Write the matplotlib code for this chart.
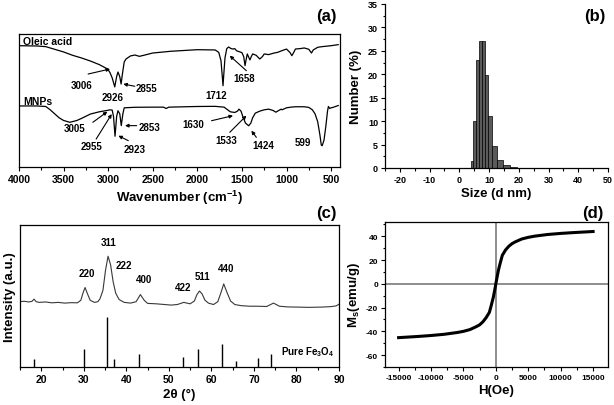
import matplotlib
matplotlib.use('Agg')
import matplotlib.pyplot as plt
from matplotlib.ticker import MultipleLocator, NullLocator

# ---------------- DATA ----------------
# (a) FTIR spectra (wavenumber cm-1, transmittance a.u.)
oleic_wn = [4000, 3800, 3700, 3600, 3500, 3400, 3300, 3200, 3100, 3030, 3006, 2980, 2955, 2926,
            2905, 2890, 2870, 2855, 2840, 2820, 2800, 2750, 2700, 2650, 2600, 2500, 2300, 2000,
            1800, 1760, 1735, 1720, 1712, 1705, 1690, 1670, 1650, 1620, 1600, 1580, 1560, 1500,
            1480, 1465, 1455, 1440, 1420, 1410, 1395, 1380, 1340, 1300, 1270, 1250, 1200, 1150,
            1100, 1050, 1000, 960, 940, 920, 900, 850, 800, 750, 720, 700, 650, 600, 500, 420]
oleic_T = [91.2, 91, 90.5, 88.5, 86.5, 84, 82, 79.7, 77, 74.5, 73.7, 71, 67, 60.2,
           68, 71.4, 68, 62.4, 70, 79, 81.2, 83.5, 84.2, 83.2, 84, 85.7, 87, 88.2,
           88, 86.2, 80, 68, 61.1, 68, 82, 89, 90.2, 89, 88.7, 89, 87.4, 86,
           83, 76.2, 80, 85, 82, 80.5, 83, 85, 84, 81.2, 83, 85, 84.5, 85.5,
           86.2, 87.5, 88.7, 86, 83.7, 86, 88.7, 89, 89.5, 88.5, 85.7, 88, 90, 90.5, 91.2, 92]

mnp_wn = [4000, 3800, 3700, 3650, 3600, 3550, 3500, 3430, 3350, 3300, 3200, 3100, 3005, 2980,
          2955, 2940, 2923, 2905, 2890, 2870, 2853, 2835, 2820, 2700, 2500, 2380, 2350, 2320,
          2000, 1800, 1700, 1660, 1630, 1580, 1550, 1533, 1510, 1490, 1460, 1424, 1400, 1380,
          1350, 1300, 1250, 1200, 1150, 1120, 1100, 1060, 1050, 1000, 950, 900, 800, 750,
          710, 680, 650, 625, 610, 600, 580, 560, 540, 530, 515, 500, 470, 430, 420]
mnp_T = [45.9, 45.9, 45.5, 43, 40, 37, 35, 33.6, 35, 36.5, 39.8, 41.5, 42.6, 43,
         42.8, 38, 23.1, 38, 42.3, 40, 31.1, 40, 44.5, 44.9, 45, 45, 44, 45,
         45.5, 45.6, 45, 43, 41.5, 41, 42, 43.5, 42, 38, 33, 31, 33, 37,
         40.5, 42, 43, 43.5, 42.5, 41.2, 42, 43.5, 43, 44.5, 45, 45.3, 45.3, 44.8,
         43, 40, 34, 24, 16.5, 16, 20, 30, 42, 45.5, 44, 44.5, 45, 46, 46.2]

ftir_labels = ['3006', '2926', '2855', '1712', '1658',
               '3005', '2955', '2923', '2853', '1630', '1533', '1424', '599']
ftir_label_x = [3295, 2945, 2568, 1785, 1469, 3381, 3183, 2701, 2531, 2047, 1673, 1264, 816]
ftir_label_y = [61.7, 52.9, 59.2, 54.1, 66.9, 29.1, 16, 13.5, 30.3, 32.3, 20.5, 16.5, 18.6]
# arrows: (tail_x, tail_y, head_x, head_y)
ftir_arrows = [(3225, 69.9, 2979, 73.7), (2701, 60.7, 2830, 62.4), (1450, 72.4, 1637, 83.7),
               (3172, 33.6, 3009, 41.6), (3135, 21.0, 2960, 39.8), (2774, 19.8, 2886, 23.5),
               (2680, 31.1, 2811, 31.1), (1841, 34.8, 1600, 38.6), (1636, 26.1, 1450, 38.6),
               (1338, 22.3, 1394, 27.3)]
ftir_names = ['Oleic acid', 'MNPs']

# (b) size distribution (bin edges in nm, number %)
size_edges = [3.9, 4.7, 5.6, 6.7, 7.7, 8.7, 9.8, 11.1, 12.6, 14.6, 16.9, 19.3]
size_number = [1.5, 10.1, 23.1, 27.0, 27.0, 19.9, 11.1, 4.8, 1.7, 0.6, 0.2]

# (c) XRD pattern
xrd_2theta = [15, 16, 17, 17.8, 18.3, 18.8, 19.5, 21, 22.5, 24, 25.5, 27, 28.5, 29.3, 29.8, 30.3,
              30.8, 31.5, 32.5, 33.3, 33.8, 34.5, 35.1, 35.7, 36.3, 36.9, 37.5, 38.3, 39.5,
              41, 42.3, 43.3, 44.2, 45, 47, 49, 50.5, 52, 53.5, 55, 56, 56.6, 57.2, 57.8, 58.5,
              59.3, 60.5, 61.5, 62.2, 62.9, 63.6, 64.5, 65.5, 67, 69, 71, 73, 74.6, 76, 78,
              80, 83, 86, 88, 89.3, 90]
xrd_int = [46, 46.3, 45.8, 46.2, 47.8, 46, 45.5, 45.8, 45.2, 45.5, 45, 45.3, 45.2, 47, 52, 56,
           52, 47, 45.5, 46, 48, 54, 68, 78, 72, 60, 52, 47.5, 45.5,
           45, 46, 51, 47, 44.8, 44.5, 44, 43.6, 44, 45.5, 44.5, 46.5, 51, 53.5, 51.5, 47,
           45, 44, 46, 52, 58.5, 53, 46.5, 44, 43.2, 42.8, 42.8, 42.6, 45, 42.8, 42.3,
           42.2, 42, 42.2, 42.5, 43, 44.2]
xrd_hkl = ['220', '311', '222', '400', '422', '511', '440']
xrd_hkl_x = [30.75, 35.9, 39.5, 44.2, 53.3, 57.8, 63.4]
xrd_hkl_y = [66, 88, 72, 62, 56, 64, 70]
ref_2theta = [18.3, 30.1, 35.45, 37.05, 43.05, 53.4, 56.95, 62.55, 65.75, 71.0, 74.0]
ref_int = [5.6, 12.7, 35.0, 5.6, 9.0, 7.0, 13.0, 16.5, 4.5, 6.0, 9.5]

# (d) magnetization curve
field_H = [-15000, -12000, -10000, -8000, -6000, -5000, -4000, -3000, -2500, -2000, -1500,
           -1000, -700, -400, -200, 0, 200, 400, 700, 1000, 1500, 2000, 2500, 3000, 4000,
           5000, 6000, 8000, 10000, 12000, 15000]
magn_M = [-45.3, -44.3, -43.5, -42.5, -41.0, -40.0, -38.5, -36.0, -34.5, -32.0, -28.5,
          -24.0, -18.0, -11.5, -6.0, 0.0, 6.0, 11.5, 18.0, 24.0, 28.5, 31.6, 33.8, 35.3, 37.7,
          39.1, 40.1, 41.5, 42.4, 43.1, 44.0]

# ---------------- STYLE ----------------
plt.rcParams['font.family'] = ['Liberation Sans', 'DejaVu Sans']
plt.rcParams['font.weight'] = 'bold'
plt.rcParams['mathtext.fontset'] = 'custom'
plt.rcParams['mathtext.rm'] = 'Liberation Sans:bold'
plt.rcParams['mathtext.it'] = 'Liberation Sans:bold'
plt.rcParams['mathtext.bf'] = 'Liberation Sans:bold'
plt.rcParams['axes.unicode_minus'] = False
plt.rcParams['axes.linewidth'] = 0.9

W, H = 614, 406
fig = plt.figure(figsize=(W / 100, H / 100), dpi=100)


def box(l, t, r, b):
    return [l / W, 1 - b / H, (r - l) / W, (b - t) / H]


def style_ticks(ax, size):
    ax.tick_params(which='both', direction='out', top=False, right=False, labelsize=size,
                   width=0.8, pad=2)
    ax.tick_params(which='major', length=3)
    ax.tick_params(which='minor', length=1.8)


# ---- (a) ----
axA = fig.add_axes(box(19, 35, 340, 168))
axA.plot(oleic_wn, oleic_T, color='black', lw=0.9)
axA.plot(mnp_wn, mnp_T, color='black', lw=0.9)
axA.set_xlim(4000, 400)
axA.set_ylim(0, 100)
axA.xaxis.set_major_locator(MultipleLocator(500))
axA.xaxis.set_minor_locator(MultipleLocator(250))
axA.yaxis.set_major_locator(NullLocator())
style_ticks(axA, 7.5)
axA.set_xlabel('Wavenumber (cm$^{-1}$)', fontsize=9.5, fontweight='bold', labelpad=3)
axA.text(3952, 95, ftir_names[0], fontsize=7.5, fontweight='bold', va='center', ha='left')
axA.text(3952, 49.8, ftir_names[1], fontsize=7.5, fontweight='bold', va='center', ha='left')
for lab, x, y in zip(ftir_labels, ftir_label_x, ftir_label_y):
    axA.text(x, y, lab, fontsize=7, fontweight='bold', ha='center', va='center')
for tx, ty, hx, hy in ftir_arrows:
    axA.annotate('', xy=(hx, hy), xytext=(tx, ty),
                 arrowprops=dict(arrowstyle='-|>', color='black', lw=0.8,
                                 mutation_scale=5, shrinkA=0, shrinkB=0))

# ---- (b) ----
axB = fig.add_axes(box(385, 5, 608, 169))
widths = [size_edges[i + 1] - size_edges[i] for i in range(len(size_number))]
axB.bar(size_edges[:-1], size_number, width=widths, align='edge', color='#5a5a5a',
        edgecolor='black', lw=0.5)
axB.set_xlim(-25, 50)
axB.set_ylim(0, 35)
axB.spines['top'].set_visible(False)
axB.spines['right'].set_visible(False)
axB.xaxis.set_major_locator(MultipleLocator(10))
axB.xaxis.set_minor_locator(MultipleLocator(5))
axB.yaxis.set_major_locator(MultipleLocator(5))
axB.yaxis.set_minor_locator(MultipleLocator(2.5))
style_ticks(axB, 6.5)
axB.set_xlabel('Size (d nm)', fontsize=9.5, fontweight='bold', labelpad=2)
axB.set_ylabel('Number (%)', fontsize=9.5, fontweight='bold', labelpad=4)

# ---- (c) ----
axC = fig.add_axes(box(20, 226, 339, 368))
axC.plot(xrd_2theta, xrd_int, color='#383838', lw=0.8)
axC.vlines(ref_2theta, 0, ref_int, color='black', lw=1.0)
axC.set_xlim(15, 90)
axC.set_ylim(0, 100)
axC.xaxis.set_major_locator(MultipleLocator(10))
axC.xaxis.set_minor_locator(MultipleLocator(5))
axC.yaxis.set_major_locator(NullLocator())
style_ticks(axC, 7.5)
for lab, x, y in zip(xrd_hkl, xrd_hkl_x, xrd_hkl_y):
    axC.text(x, y, lab, fontsize=7, fontweight='bold', ha='center', va='center')
axC.text(89, 11, 'Pure Fe$_3$O$_4$', fontsize=7, fontweight='bold', ha='right', va='center')
axC.set_xlabel('2θ (°)', fontsize=9.5, fontweight='bold', labelpad=3)
axC.set_ylabel('Intensity (a.u.)', fontsize=9.5, fontweight='bold', labelpad=3)

# ---- (d) ----
axD = fig.add_axes(box(385, 223, 608, 368))
axD.axhline(0, color='#7a7a7a', lw=1.2)
axD.axvline(0, color='#7a7a7a', lw=1.2)
axD.plot(field_H, magn_M, color='black', lw=2.2)
axD.set_xlim(-17100, 17300)
axD.set_ylim(-70, 52)
axD.xaxis.set_major_locator(MultipleLocator(5000))
axD.xaxis.set_minor_locator(MultipleLocator(2500))
axD.yaxis.set_major_locator(MultipleLocator(20))
axD.yaxis.set_minor_locator(MultipleLocator(10))
style_ticks(axD, 6)
axD.set_xlabel('H(Oe)', fontsize=9.5, fontweight='bold', labelpad=2)
axD.set_ylabel('M$_s$(emu/g)', fontsize=9.5, fontweight='bold', labelpad=3)

# panel letters
for lab, px, py in [('(a)', 326.7, 16.7), ('(b)', 595, 16.7), ('(c)', 326.7, 213.3),
                    ('(d)', 593, 213.3)]:
    fig.text(px / W, 1 - py / H, lab, fontsize=12, fontweight='bold', ha='center', va='center')

fig.savefig('out.png', dpi=100)
